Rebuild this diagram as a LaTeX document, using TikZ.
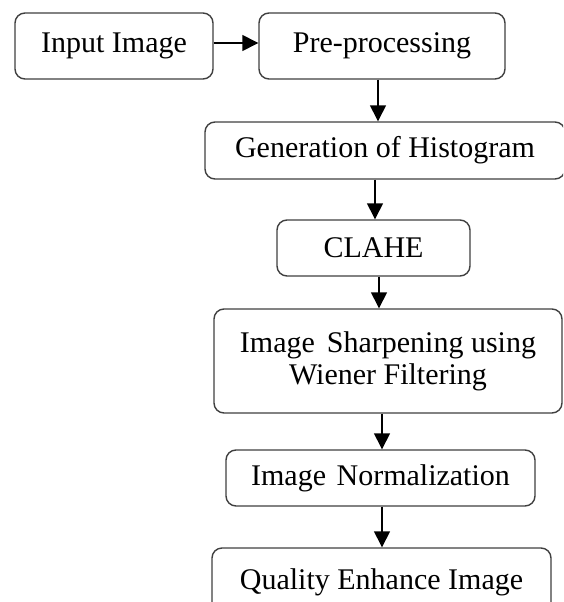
\documentclass[tikz,border=0pt]{standalone}
\usepackage{fontspec}
\setmainfont{Liberation Serif}
\usetikzlibrary{arrows.meta}

\tikzset{
  procbox/.style={draw=black!75, line width=1.4pt, rounded corners=10pt,
    fill=white, inner sep=0pt, align=center,
    font=\fontsize{30}{32}\selectfont},
  arr/.style={line width=1.4pt, -{Triangle[length=16pt,width=16pt]}}
}

\begin{document}
\begin{tikzpicture}[x=1pt, y=-1pt]
  \useasboundingbox (0,0) rectangle (563,602);
  \clip (0,0) rectangle (563,602);

  % processing stages, top to bottom
  \node[procbox, minimum width=198pt, minimum height=66pt] (input) at (114,46) {Input Image};
  \node[procbox, minimum width=246pt, minimum height=66pt] (pre)   at (382,46) {Pre-processing};
  \node[procbox, minimum width=360pt, minimum height=57pt] (gen)   at (385,150.5) {Generation of Histogram};
  \node[procbox, minimum width=193pt, minimum height=56pt] (clahe) at (373.5,248) {CLAHE};
  \node[procbox, minimum width=348pt, minimum height=104pt] (sharp) at (388,361) {Image\hspace{0.4em}Sharpening using\\Wiener Filtering};
  \node[procbox, minimum width=309pt, minimum height=56pt] (norm)  at (380.5,478) {Image\hspace{0.35em}Normalization};
  \node[procbox, minimum width=339pt, minimum height=68pt] (qual)  at (381.5,582) {Quality Enhance Image};

  % connectors
  \draw[arr] ([yshift=3pt]input.east) -- ([yshift=3pt]input.east -| pre.west);
  \draw[arr] ([xshift=-4pt]pre.south) -- ([xshift=-4pt]pre.south |- gen.north);
  \draw[arr] ([xshift=-10pt]gen.south) -- ([xshift=-10pt]gen.south |- clahe.north);
  \draw[arr] ([xshift=5.5pt]clahe.south) -- ([xshift=5.5pt]clahe.south |- sharp.north);
  \draw[arr] ([xshift=-6pt]sharp.south) -- ([xshift=-6pt]sharp.south |- norm.north);
  \draw[arr] ([xshift=1.5pt]norm.south) -- ([xshift=1.5pt]norm.south |- qual.north);
\end{tikzpicture}
\end{document}
